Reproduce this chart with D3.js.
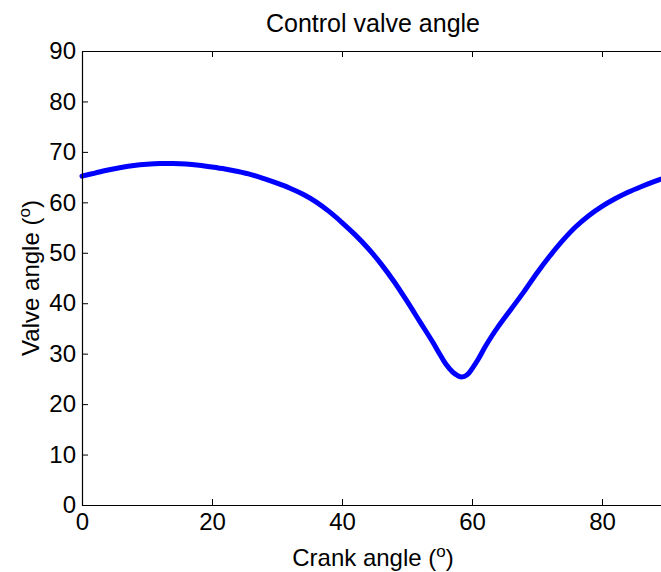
<!DOCTYPE html>
<html>
<head>
<meta charset="utf-8">
<script src="https://cdn.jsdelivr.net/npm/d3@7"></script>
<style>
  html, body { margin: 0; padding: 0; background: #ffffff; }
  svg { display: block; font-family: "Liberation Sans", Arial, Helvetica, sans-serif; }
</style>
</head>
<body>
<svg id="chart" width="661" height="572"></svg>
<script>
// Crank angle (degrees) and the matching control valve angle (degrees)
const crankAngle = [0, 2, 4, 6, 8, 10, 12, 14, 16, 18, 20, 22, 24, 26, 28, 30, 32, 34, 36, 38,
  40, 42, 44, 46, 48, 50, 52, 54, 55, 56, 57, 57.5, 58, 58.5, 59, 59.5, 60, 61, 62, 63, 64, 66,
  68, 70, 72, 74, 76, 78, 80, 82, 84, 86, 88, 89.5];
const valveAngle = [65.2, 65.8, 66.4, 66.9, 67.3, 67.55, 67.7, 67.7, 67.6, 67.35, 67.0, 66.6, 66.1, 65.5, 64.7, 63.8, 62.8, 61.6, 60.1, 58.2,
  56.0, 53.6, 50.9, 47.8, 44.3, 40.4, 36.3, 32.2, 30.0, 27.9, 26.4, 25.9, 25.5, 25.4, 25.6, 26.1, 27.0, 29.0, 31.3, 33.4, 35.3, 38.8,
  42.3, 46.0, 49.4, 52.5, 55.2, 57.4, 59.2, 60.7, 62.0, 63.1, 64.1, 64.8];

const xTicks = [0, 20, 40, 60, 80];
const yTicks = [0, 10, 20, 30, 40, 50, 60, 70, 80, 90];

const svg = d3.select("#chart");
const plotLeft = 82, plotRight = 667, plotTop = 51, plotBottom = 505;

const x = d3.scaleLinear().domain([0, 90]).range([plotLeft, plotRight]);
const y = d3.scaleLinear().domain([0, 90]).range([plotBottom, plotTop]);

// Curve
const points = crankAngle.map((c, i) => [c, valveAngle[i]]);
const line = d3.line()
  .x(d => x(d[0]))
  .y(d => y(d[1]))
  .curve(d3.curveCatmullRom.alpha(0.5));

svg.append("path")
  .datum(points)
  .attr("fill", "none")
  .attr("stroke", "#0000ff")
  .attr("stroke-width", 5)
  .attr("stroke-linejoin", "round")
  .attr("stroke-linecap", "round")
  .attr("d", line);

// Axes: inward ticks on all four sides (boxed axes)
function styleAxis(g) {
  g.selectAll(".domain").attr("stroke", "#000").attr("stroke-width", 1.2);
  g.selectAll(".tick line").attr("stroke", "#000").attr("stroke-width", 1);
  g.selectAll(".tick text").attr("fill", "#000").style("font-size", "24px");
}

svg.append("g")
  .attr("transform", `translate(0,${plotBottom})`)
  .call(d3.axisBottom(x).tickValues(xTicks).tickSize(-6).tickSizeOuter(0).tickPadding(8).tickFormat(d3.format("d")))
  .call(styleAxis);

svg.append("g")
  .attr("transform", `translate(0,${plotTop})`)
  .call(d3.axisTop(x).tickValues(xTicks).tickSize(-6).tickSizeOuter(0).tickFormat(""))
  .call(styleAxis);

svg.append("g")
  .attr("transform", `translate(${plotLeft},0)`)
  .call(d3.axisLeft(y).tickValues(yTicks).tickSize(-6).tickSizeOuter(0).tickPadding(6).tickFormat(d3.format("d")))
  .call(styleAxis);

svg.append("g")
  .attr("transform", `translate(${plotRight},0)`)
  .call(d3.axisRight(y).tickValues(yTicks).tickSize(-6).tickSizeOuter(0).tickFormat(""))
  .call(styleAxis);

// Title
svg.append("text")
  .attr("x", 373)
  .attr("y", 32)
  .attr("text-anchor", "middle")
  .style("font-size", "25px")
  .text("Control valve angle");

// X axis label
const xl = svg.append("text")
  .attr("x", 373)
  .attr("y", 566)
  .attr("text-anchor", "middle")
  .style("font-size", "24px");
xl.append("tspan").text("Crank angle (");
xl.append("tspan").attr("dy", -9).style("font-size", "17px").text("o");
xl.append("tspan").attr("dy", 9).text(")");

// Y axis label
const yl = svg.append("text")
  .attr("transform", `translate(39,${(plotTop + plotBottom) / 2}) rotate(-90)`)
  .attr("text-anchor", "middle")
  .style("font-size", "24px");
yl.append("tspan").text("Valve angle (");
yl.append("tspan").attr("dy", -9).style("font-size", "17px").text("o");
yl.append("tspan").attr("dy", 9).text(")");
</script>
</body>
</html>
